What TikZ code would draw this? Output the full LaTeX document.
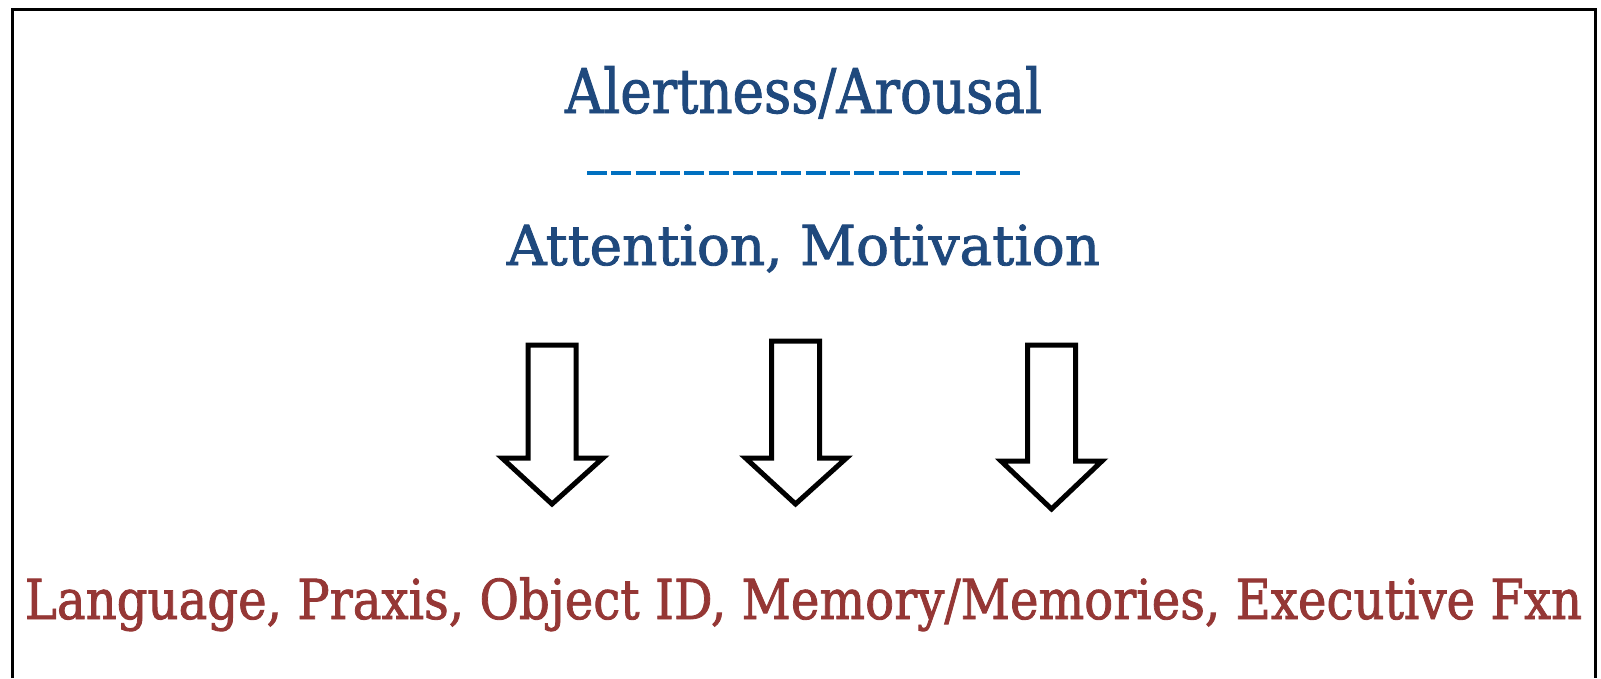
\documentclass[tikz,border=0pt]{standalone}
\usepackage{fontspec}
\setmainfont{DejaVu Serif}
\newfontfamily\semibold[FakeBold=1.6]{DejaVu Serif}
\usepackage{graphicx}
\definecolor{titleblue}{HTML}{1F497D}
\definecolor{itemred}{HTML}{953735}
\definecolor{dashblue}{HTML}{0070C0}
\tikzset{
  frame/.style={draw=black, line width=3pt},
  toptxt/.style={inner sep=0pt, anchor=base, text=titleblue, font=\semibold},
  bottxt/.style={inner sep=0pt, anchor=base, text=itemred, font=\semibold},
  dashline/.style={draw=dashblue, line width=4pt, dash pattern=on 20pt off 4.3pt},
  blockarrow/.style={draw=black, fill=white, line width=5pt, line join=miter}
}
\begin{document}
\begin{tikzpicture}[x=1pt,y=-1pt]
\useasboundingbox (0,0) rectangle (1601,678);
\draw[frame] (12,678) -- (12,9) -- (1595,9) -- (1595,678);
\node[toptxt] (alert) at (803.5,113) {\resizebox{477pt}{\height}{\fontsize{61.7}{70}\selectfont Alertness/Arousal}};
\draw[dashline] (587,172.5) -- (1021,172.5);
\node[toptxt] (attn) at (803.5,265) {\resizebox{593pt}{\height}{\fontsize{55}{64}\selectfont Attention, Motivation}};
\draw[blockarrow] (528,345) -- (576,345) -- (576,458) -- (603,458) -- (552,504) -- (502,458) -- (528,458) -- cycle;
\draw[blockarrow] (771.5,341) -- (819.5,341) -- (819.5,458) -- (846.5,458) -- (795.5,504) -- (745.5,458) -- (771.5,458) -- cycle;
\draw[blockarrow] (1027.5,345) -- (1075.5,345) -- (1075.5,461) -- (1102,461) -- (1051.5,509) -- (1001,461) -- (1027.5,461) -- cycle;
\node[bottxt] (funcs) at (803.5,619) {\resizebox{1557pt}{\height}{\fontsize{55}{64}\selectfont Language, Praxis, Object ID, Memory/Memories, Executive Fxn}};
\end{tikzpicture}
\end{document}
